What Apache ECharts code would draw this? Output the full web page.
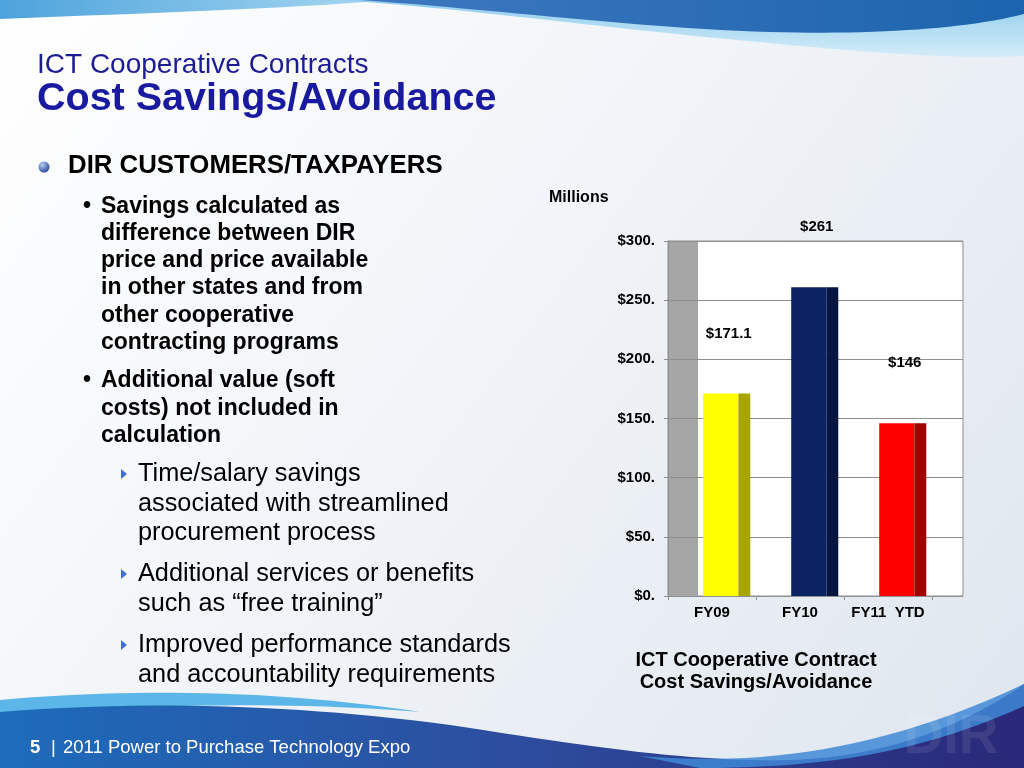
<!DOCTYPE html>
<html><head><meta charset="utf-8">
<script src="https://cdn.jsdelivr.net/npm/echarts@6/dist/echarts.min.js"></script>
<style>html,body{margin:0;padding:0;width:1024px;height:768px;overflow:hidden}#c{width:1024px;height:768px}</style>
</head><body><div id="c"></div>
<script>
// ---- data ----
const categories = ['FY09', 'FY10', 'FY11  YTD'];
const savings = [171.1, 261, 146];
const valueLabels = ['$171.1', '$261', '$146'];
const yMin = 0, yMax = 300, yStep = 50;
const frontColors = ['#ffff00', '#0b2263', '#ff0000'];
const sideColors = ['#a9a400', '#06153f', '#a00000'];

const titleLines = ['ICT Cooperative Contracts', 'Cost Savings/Avoidance'];
const mainBullet = 'DIR CUSTOMERS/TAXPAYERS';
const subBullets = [
  ['Savings calculated as', 'difference between DIR', 'price and price available', 'in other states and from', 'other cooperative', 'contracting programs'],
  ['Additional value (soft', 'costs) not included in', 'calculation']
];
const thirdBullets = [
  ['Time/salary savings', 'associated with streamlined', 'procurement process'],
  ['Additional services or benefits', 'such as \u201cfree training\u201d'],
  ['Improved performance standards', 'and accountability requirements']
];
const chartTitle = ['ICT Cooperative Contract', 'Cost Savings/Avoidance'];
const unitLabel = 'Millions';
const footerNum = '5';
const footerText = '2011 Power to Purchase Technology Expo';

const FF = '"Liberation Sans", Arial, Helvetica, sans-serif';
const chart = echarts.init(document.getElementById('c'));

function lin(x2, y2, stops) {
  return {type: 'linear', x: 0, y: 0, x2: x2, y2: y2,
    colorStops: stops.map(function (s) { return {offset: s[0], color: s[1]}; })};
}
function txt(text, x, baseline, size, weight, fill, align, z) {
  return {
    type: 'text', z: z || 20, silent: true,
    style: {text: text, x: x, y: baseline - size * 0.34, fontSize: size, fontWeight: weight,
      fontFamily: FF, fill: fill, align: align || 'left', verticalAlign: 'middle'}
  };
}
// decorative wave outline -> polygon points (M x y, L x y, C x1 y1 x2 y2 x y)
function shapePts(cmds) {
  const pts = []; let cur = null;
  cmds.forEach(function (c) {
    if (c[0] === 'M' || c[0] === 'L') { cur = [c[1], c[2]]; pts.push(cur); }
    else if (c[0] === 'C') {
      const p0 = cur;
      for (let t = 1; t <= 24; t++) {
        const s = t / 24, u = 1 - s;
        pts.push([u * u * u * p0[0] + 3 * u * u * s * c[1] + 3 * u * s * s * c[3] + s * s * s * c[5],
                  u * u * u * p0[1] + 3 * u * u * s * c[2] + 3 * u * s * s * c[4] + s * s * s * c[6]]);
      }
      cur = [c[5], c[6]];
    }
  });
  return pts;
}
function wave(cmds, fill, z, opacity) {
  return {type: 'polygon', z: z, silent: true, shape: {points: shapePts(cmds)},
    style: {fill: fill, opacity: opacity == null ? 1 : opacity}};
}

const g = [];
// background waves
g.push(wave([['M', 0, 0], ['L', 390, 0], ['C', 300, 8, 150, 13, 0, 19]], lin(1, 0, [[0, '#4da3dc'], [1, '#a9d9f2']]), 1));
g.push(wave([['M', 340, 0], ['C', 480, 10, 620, 30, 760, 42], ['C', 860, 52, 960, 60, 1024, 56], ['L', 1024, 0]],
  lin(0, 1, [[0, '#8fcdee'], [1, '#d5ecf8']]), 1));
g.push(wave([['M', 360, 0], ['C', 500, 10, 640, 28, 770, 32], ['C', 880, 35, 970, 28, 1024, 14], ['L', 1024, 0]],
  lin(1, 0, [[0, '#3e78bf'], [1, '#1c64ae']]), 2));
g.push(wave([['M', 0, 700], ['C', 130, 688, 280, 690, 420, 712], ['C', 300, 702, 150, 703, 0, 716]], '#5cb6e8', 1));
g.push(wave([['M', 0, 712], ['C', 150, 700, 300, 705, 450, 725], ['C', 600, 748, 690, 762, 790, 760],
  ['C', 890, 757, 970, 722, 1024, 684], ['L', 1024, 768], ['L', 0, 768]],
  lin(1, 0, [[0, '#1d6cbb'], [0.5, '#2d4d9e'], [1, '#2a2878']]), 1));
g.push(wave([['M', 640, 756], ['C', 760, 766, 880, 752, 1024, 684], ['L', 1024, 706], ['C', 930, 748, 840, 768, 700, 768]],
  '#3f88d6', 2, 0.85));
g.push(txt('DIR', 951, 757, 55, 'bold', 'rgba(255,255,255,0.09)', 'center', 3));

// slide title
g.push(txt(titleLines[0], 37, 75, 28, 'normal', '#1c1c94'));
g.push(txt(titleLines[1], 37, 113, 39.5, 'bold', '#1a1aa0'));
// main bullet
g.push({type: 'circle', z: 20, silent: true, shape: {cx: 44, cy: 167, r: 5.5},
  style: {fill: {type: 'radial', x: 0.35, y: 0.3, r: 0.8, colorStops: [{offset: 0, color: '#b8cdf2'}, {offset: 1, color: '#1a3d96'}]}}});
g.push(txt(mainBullet, 68, 175, 25.8, 'bold', '#000'));
// sub bullets
let base = 214;
subBullets.forEach(function (lines, bi) {
  if (bi > 0) base += 11;
  g.push(txt('\u2022', 83, base, 23, 'bold', '#000'));
  lines.forEach(function (l) { g.push(txt(l, 101, base, 23, 'bold', '#000')); base += 27.3; });
});
// third level
const thirdStarts = [483, 583, 654];
thirdBullets.forEach(function (lines, bi) {
  const b0 = thirdStarts[bi];
  g.push({type: 'polygon', z: 20, silent: true, shape: {points: [[121, b0 - 14], [127, b0 - 9], [121, b0 - 4]]}, style: {fill: '#4170cf'}});
  lines.forEach(function (l, li) { g.push(txt(l, 138, b0 + li * 29.5, 25.3, 'normal', '#000')); });
});
// chart texts
g.push(txt(unitLabel, 549, 203, 16, 'bold', '#000'));
g.push(txt(chartTitle[0], 756, 667, 20, 'bold', '#000', 'center'));
g.push(txt(chartTitle[1], 756, 689, 20, 'bold', '#000', 'center'));
// footer
g.push(txt(footerNum, 30, 754, 18.5, 'bold', '#fff'));
g.push(txt('|', 51, 754, 18.5, 'normal', '#fff'));
g.push(txt(footerText, 63, 754, 18.5, 'normal', '#fff'));

const option = {
  animation: false,
  backgroundColor: lin(1, 1, [[0, '#ffffff'], [0.45, '#f1f4f8'], [1, '#dfe6ef']]),
  textStyle: {fontFamily: FF},
  grid: [
    {left: 668, top: 241, width: 264, height: 355, outerBoundsMode: 'none', containLabel: false},
    {left: 668, top: 241, width: 295, height: 355, outerBoundsMode: 'none', containLabel: false,
      show: true, backgroundColor: '#ffffff', borderColor: '#8f8f8f', borderWidth: 1}
  ],
  xAxis: [
    {gridIndex: 0, type: 'category', data: categories, boundaryGap: true,
      axisLine: {show: true, lineStyle: {color: '#8f8f8f', width: 1}},
      axisTick: {show: true, length: 4, lineStyle: {color: '#8f8f8f'}},
      axisLabel: {margin: 9, fontSize: 15, fontWeight: 'bold', color: '#000', fontFamily: FF, interval: 0},
      splitLine: {show: false}},
    {gridIndex: 1, type: 'value', min: 0, max: 1, show: false}
  ],
  yAxis: [
    {gridIndex: 0, type: 'value', min: yMin, max: yMax, interval: yStep,
      axisLine: {show: true, lineStyle: {color: '#8f8f8f', width: 1}},
      axisTick: {show: true, length: 4, lineStyle: {color: '#8f8f8f'}},
      axisLabel: {margin: 13, fontSize: 15, fontWeight: 'bold', color: '#000', fontFamily: FF,
        formatter: function (v) { return '$' + v + '.'; }},
      splitLine: {show: false}},
    {gridIndex: 1, type: 'value', min: yMin, max: yMax, interval: yStep,
      axisLine: {show: false}, axisTick: {show: false}, axisLabel: {show: false},
      splitLine: {show: true, lineStyle: {color: '#8f8f8f', width: 1}}}
  ],
  series: [{
    type: 'custom', xAxisIndex: 0, yAxisIndex: 0, z: 5,
    data: categories.map(function (c, i) { return [i, savings[i]]; }),
    renderItem: function (params, api) {
      const i = api.value(0);
      const top = api.coord([i, api.value(1)]);
      const bottom = api.coord([i, 0]);
      const bw = api.size([1, 0])[0];
      const fx = top[0] - bw * 0.10, fw = bw * 0.40, sw = bw * 0.135;
      const h = bottom[1] - top[1];
      return {type: 'group', children: [
        {type: 'rect', shape: {x: fx, y: top[1], width: fw, height: h}, style: {fill: frontColors[i]}},
        {type: 'rect', shape: {x: fx + fw, y: top[1], width: sw, height: h}, style: {fill: sideColors[i]}},
        {type: 'text', style: {text: valueLabels[i], x: fx + (fw + sw) / 2 + 2, y: top[1] - 60, align: 'center',
          verticalAlign: 'middle', fontSize: 15, fontWeight: 'bold', fontFamily: FF, fill: '#000'}}
      ]};
    }
  }],
  graphic: {elements: g}
};
chart.setOption(option);
// 3D back wall of the plot, placed from the axis scale
const wTop = chart.convertToPixel({yAxisIndex: 0}, yMax);
const wBot = chart.convertToPixel({yAxisIndex: 0}, yMin);
const band = chart.convertToPixel({xAxisIndex: 0}, 0);
const bandW = chart.convertToPixel({xAxisIndex: 0}, 1) - band;
const wLeft = band - bandW / 2;
g.push({type: 'rect', z: 0, silent: true, shape: {x: wLeft, y: wTop, width: 30, height: wBot - wTop}, style: {fill: '#a6a6a6'}});
chart.setOption({graphic: {elements: g}});
</script></body></html>
